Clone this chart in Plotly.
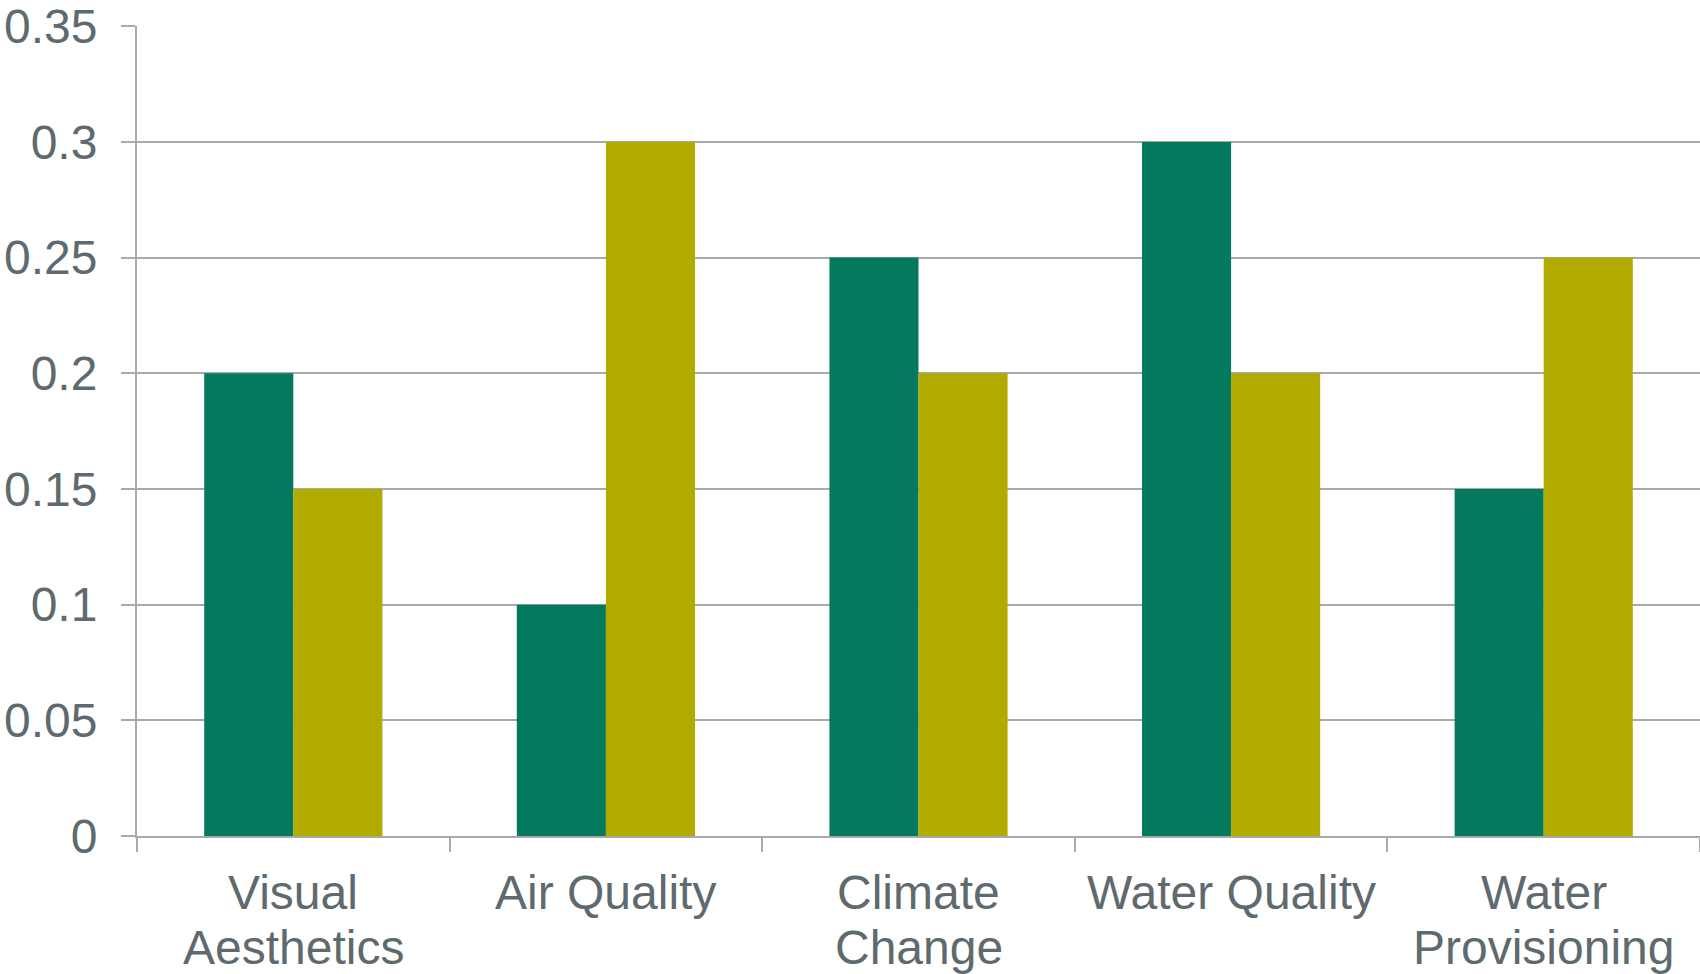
import plotly.graph_objects as go

# Ecosystem service categories (with their two-line label split) and the two series of weights
category_lines = [
    ["Visual", "Aesthetics"],
    ["Air Quality"],
    ["Climate", "Change"],
    ["Water Quality"],
    ["Water", "Provisioning"],
]
categories = [" ".join(lines) for lines in category_lines]
series_a = [0.20, 0.10, 0.25, 0.30, 0.15]
series_b = [0.15, 0.30, 0.20, 0.20, 0.25]
y_ticks = [0, 0.05, 0.1, 0.15, 0.2, 0.25, 0.3, 0.35]
y_tick_text = ["0", "0.05", "0.1", "0.15", "0.2", "0.25", "0.3", "0.35"]

GREEN = "#037A5E"
GOLD = "#B3AA00"
TEXT = "#5F6A6E"
GRID = "#A8A9AB"
FONT_SIZE = 48
FONT_FAMILY = "Liberation Sans, Arial, sans-serif"

fig = go.Figure()
fig.add_trace(go.Bar(x=categories, y=series_a, marker=dict(color=GREEN, line=dict(width=0)), name="A"))
fig.add_trace(go.Bar(x=categories, y=series_b, marker=dict(color=GOLD, line=dict(width=0)), name="B"))

# Category labels drawn line by line for a tighter line spacing than tick labels allow
FIRST_LINE_SHIFT = -56
LINE_STEP = 55
for cat, lines in zip(categories, category_lines):
    for i, text in enumerate(lines):
        fig.add_annotation(
            x=cat, xref="x", y=0, yref="paper",
            yshift=FIRST_LINE_SHIFT - LINE_STEP * i,
            text=text, showarrow=False, yanchor="middle", xanchor="center",
            font=dict(family=FONT_FAMILY, size=FONT_SIZE, color=TEXT),
        )

fig.update_layout(
    width=1700,
    height=974,
    margin=dict(l=137, r=0, t=26, b=138),
    paper_bgcolor="white",
    plot_bgcolor="white",
    barmode="group",
    bargap=0.43,
    bargroupgap=0,
    showlegend=False,
    font=dict(family=FONT_FAMILY, size=FONT_SIZE, color=TEXT),
)
fig.update_xaxes(
    automargin=False,
    showline=True,
    linecolor=GRID,
    linewidth=2,
    ticks="outside",
    ticklen=14,
    tickwidth=2,
    tickcolor=GRID,
    tickson="boundaries",
    showgrid=False,
    showticklabels=False,
)
fig.update_yaxes(
    automargin=False,
    range=[0, 0.3501],
    tickvals=y_ticks,
    ticktext=y_tick_text,
    showline=True,
    linecolor=GRID,
    linewidth=2,
    ticks="outside",
    ticklen=14,
    tickwidth=2,
    tickcolor=GRID,
    showgrid=True,
    gridcolor=GRID,
    gridwidth=2,
    zeroline=False,
    ticklabelstandoff=14,
    tickfont=dict(size=FONT_SIZE, color=TEXT),
)

fig.write_html("out.html")
